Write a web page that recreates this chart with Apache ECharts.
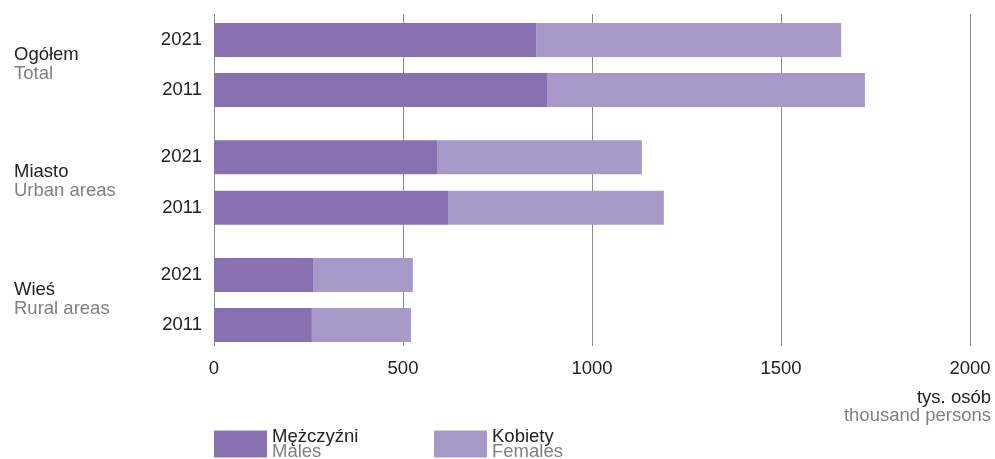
<!DOCTYPE html>
<html>
<head>
<meta charset="utf-8">
<script src="https://cdn.jsdelivr.net/npm/echarts@6/dist/echarts.min.js"></script>
<style>
html,body{margin:0;padding:0;background:#fff;}
#chart{width:995px;height:459px;}
</style>
</head>
<body>
<div id="chart"></div>
<script>
// dane (tys. osób)
var groupsPl = ['Ogółem', 'Miasto', 'Wieś'];
var groupsEn = ['Total', 'Urban areas', 'Rural areas'];
var years = ['2021', '2011'];
var males = [[852, 881], [590, 619], [262, 259]];
var females = [[807, 841], [542, 571], [264, 262]];
var seriesPl = ['Mężczyźni', 'Kobiety'];
var seriesEn = ['Males', 'Females'];
var xTicks = [0, 500, 1000, 1500, 2000];

var colors = ['#8771b0', '#a898c7'];
var font = 'Liberation Sans, Arial, sans-serif';
var fs = 18.5;
var myChart = echarts.init(document.getElementById('chart'));

var grids = [{left: 214, right: 25, top: 14, bottom: 113}];
var xAxes = [{
	gridIndex: 0, type: 'value', min: xTicks[0], max: xTicks[xTicks.length - 1], interval: 500,
	axisLine: {show: false}, axisTick: {show: false},
	axisLabel: {color: '#222', fontSize: fs, fontFamily: font, margin: 13, formatter: function (v) { return String(v); }},
	splitLine: {show: true, lineStyle: {color: '#8c8c8c', width: 1}}
}];
var yAxes = [{gridIndex: 0, type: 'category', data: [''], show: false}];
var series = [];
var tops = [15, 132, 250];
var heights = [100, 101, 100];
var graphics = [];

for (var g = 0; g < groupsPl.length; g++) {
	var gi = g + 1;
	grids.push({left: 214, right: 25, top: tops[g], height: heights[g]});
	xAxes.push({gridIndex: gi, type: 'value', min: 0, max: 2000, show: false, splitLine: {show: false}});
	yAxes.push({
		gridIndex: gi, type: 'category', data: years, inverse: true,
		axisLine: {show: false}, axisTick: {show: false},
		axisLabel: {color: '#222', fontSize: fs, fontFamily: font, margin: 12}
	});
	series.push({
		name: seriesPl[0], type: 'bar', stack: 's' + g, xAxisIndex: gi, yAxisIndex: gi,
		barWidth: 34, data: males[g], itemStyle: {color: colors[0]}, silent: true
	});
	series.push({
		name: seriesPl[1], type: 'bar', stack: 's' + g, xAxisIndex: gi, yAxisIndex: gi,
		barWidth: 34, data: females[g], itemStyle: {color: colors[1]}, silent: true
	});
	graphics.push({
		type: 'text', left: 14, top: tops[g] + heights[g] / 2 - 20,
		style: {
			text: '{a|' + groupsPl[g] + '}\n{b|' + groupsEn[g] + '}',
			rich: {
				a: {fontSize: fs, fontFamily: font, fill: '#222', lineHeight: 19},
				b: {fontSize: fs, fontFamily: font, fill: '#808080', lineHeight: 19}
			}
		}
	});
}

graphics.push({
	type: 'text', right: 4, top: 388,
	style: {
		text: '{a|tys. osób}\n{b|thousand persons}', align: 'right',
		rich: {
			a: {fontSize: fs, fontFamily: font, fill: '#222', lineHeight: 18, align: 'right'},
			b: {fontSize: fs, fontFamily: font, fill: '#808080', lineHeight: 18, align: 'right'}
		}
	}
});

function legendOpt(i, left) {
	return {
		left: left, top: 427, padding: 0, itemWidth: 53, itemHeight: 27, itemGap: 0,
		icon: 'rect', selectedMode: false,
		data: [seriesPl[i]],
		formatter: function () {
			return '{a|' + seriesPl[i] + '}\n{b|' + seriesEn[i] + '}';
		},
		textStyle: {
			rich: {
				a: {fontSize: fs, fontFamily: font, color: '#222', lineHeight: 15},
				b: {fontSize: fs, fontFamily: font, color: '#808080', lineHeight: 15}
			}
		}
	};
}

var option = {
	animation: false,
	backgroundColor: '#fff',
	grid: grids,
	xAxis: xAxes,
	yAxis: yAxes,
	legend: [legendOpt(0, 214), legendOpt(1, 434)],
	series: series,
	graphic: graphics
};
myChart.setOption(option);
</script>
</body>
</html>
